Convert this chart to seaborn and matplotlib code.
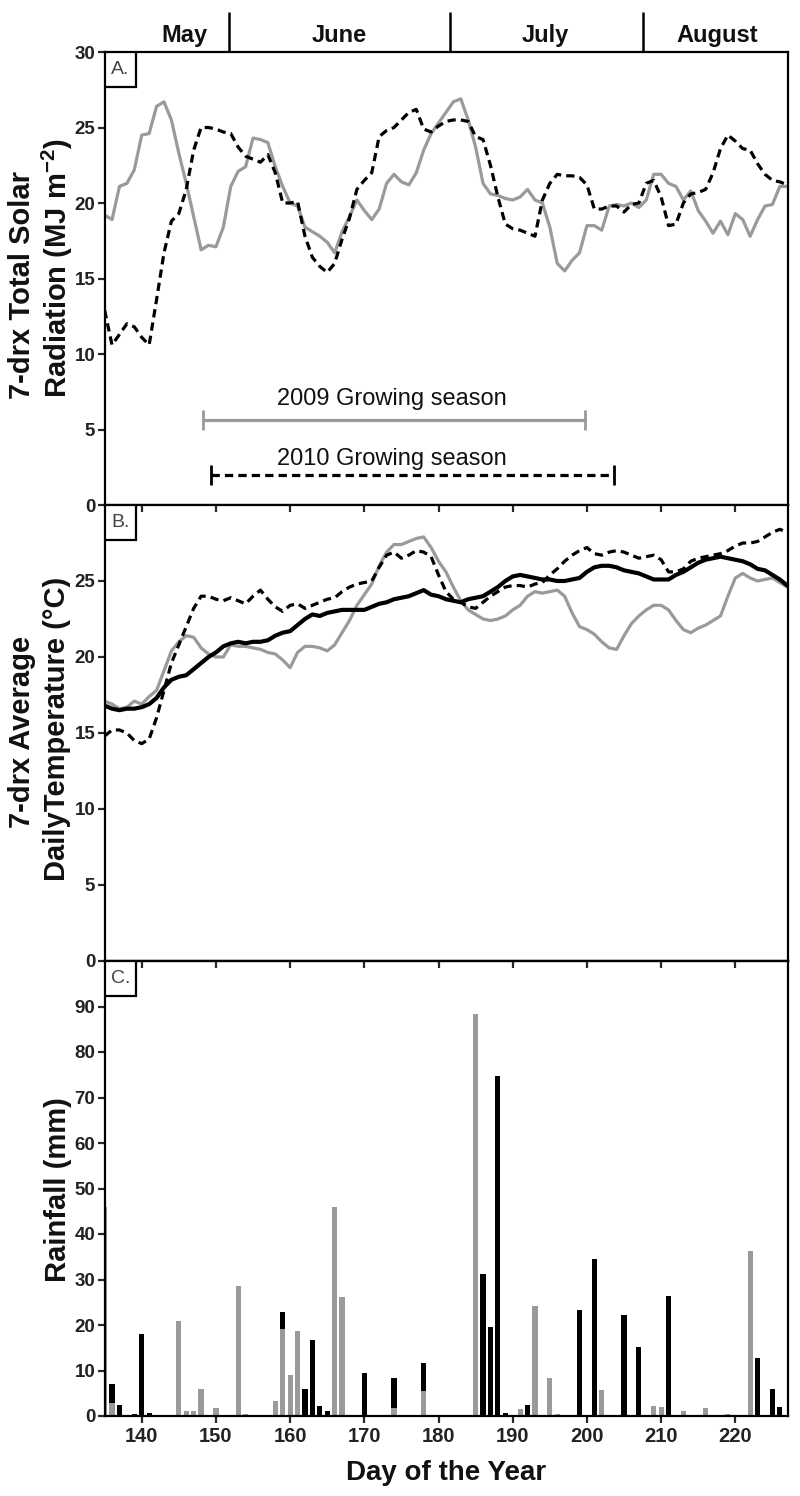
import matplotlib
matplotlib.use("Agg")
import matplotlib.pyplot as plt
from matplotlib.patches import Rectangle
import pandas as pd
import seaborn as sns

# ---------------- data ----------------
days = list(range(135, 228))

solar_2009 = [19.2, 18.9, 21.1, 21.3, 22.2, 24.5, 24.6, 26.4, 26.7, 25.5,
              23.3, 21.3, 19.1, 16.9, 17.2, 17.1, 18.4, 21.1, 22.1, 22.4,
              24.3, 24.2, 24.0, 22.4, 21.1, 20.0, 19.8, 18.4, 18.1, 17.8,
              17.4, 16.7, 18.1, 19.1, 20.2, 19.5, 18.9, 19.6, 21.3, 21.9,
              21.4, 21.2, 22.0, 23.5, 24.6, 25.3, 26.0, 26.7, 26.9, 25.5,
              23.7, 21.3, 20.6, 20.5, 20.3, 20.2, 20.4, 20.9, 20.2, 20.0,
              18.4, 16.0, 15.5, 16.2, 16.7, 18.5, 18.5, 18.2, 19.8, 19.9,
              19.8, 20.0, 19.7, 20.2, 21.9, 21.9, 21.3, 21.1, 20.2, 20.8,
              19.5, 18.8, 18.0, 18.8, 17.9, 19.3, 18.9, 17.8, 18.9, 19.8,
              19.9, 21.1, 21.1]
solar_2010 = [12.9, 10.6, 11.3, 12.0, 11.8, 11.1, 10.6, 13.6, 16.7, 18.8,
              19.3, 20.9, 23.5, 25.0, 25.0, 24.9, 24.7, 24.6, 23.7, 23.1,
              22.9, 22.7, 23.2, 22.0, 20.0, 20.0, 20.1, 17.8, 16.4, 15.8,
              15.4, 16.0, 17.6, 19.0, 20.9, 21.5, 22.0, 24.4, 24.8, 25.0,
              25.5, 26.0, 26.2, 24.9, 24.7, 25.1, 25.4, 25.5, 25.5, 25.4,
              24.4, 24.2, 22.5, 20.4, 18.6, 18.3, 18.2, 18.0, 17.8, 20.2,
              21.3, 21.9, 21.8, 21.8, 21.7, 21.2, 19.6, 19.6, 19.8, 19.8,
              19.4, 19.9, 20.0, 21.3, 21.5, 20.4, 18.5, 18.6, 20.0, 20.6,
              20.7, 20.9, 22.0, 23.6, 24.5, 24.1, 23.6, 23.5, 22.6, 21.9,
              21.5, 21.4, 21.2]

temp_2009 = [17.1, 16.9, 16.6, 16.7, 17.1, 16.9, 17.4, 17.8, 19.1, 20.4,
             21.0, 21.4, 21.3, 20.6, 20.2, 20.0, 20.0, 20.8, 20.7, 20.7,
             20.6, 20.5, 20.3, 20.2, 19.8, 19.3, 20.3, 20.7, 20.7, 20.6,
             20.4, 20.8, 21.6, 22.4, 23.4, 24.1, 24.8, 26.0, 26.9, 27.4,
             27.4, 27.6, 27.8, 27.9, 27.2, 26.3, 25.6, 24.6, 23.7, 23.1,
             22.8, 22.5, 22.4, 22.5, 22.7, 23.1, 23.4, 24.0, 24.3, 24.2,
             24.3, 24.4, 24.0, 22.9, 22.0, 21.8, 21.5, 21.0, 20.6, 20.5,
             21.4, 22.2, 22.7, 23.1, 23.4, 23.4, 23.1, 22.4, 21.8, 21.6,
             21.9, 22.1, 22.4, 22.7, 24.0, 25.2, 25.5, 25.2, 25.0, 25.1,
             25.2, 24.9, 24.6]
temp_2010 = [14.8, 15.2, 15.2, 15.0, 14.5, 14.3, 14.6, 16.0, 17.8, 19.6,
             20.8, 22.0, 23.2, 24.0, 24.0, 23.8, 23.7, 23.9, 23.7, 23.5,
             24.0, 24.4, 23.8, 23.3, 23.0, 23.4, 23.5, 23.2, 23.4, 23.6,
             23.8, 23.9, 24.3, 24.6, 24.8, 24.9, 25.0, 25.9, 26.7, 26.9,
             26.5, 26.7, 27.0, 26.9, 26.6, 25.4, 24.3, 23.8, 23.6, 23.3,
             23.2, 23.6, 24.0, 24.3, 24.6, 24.7, 24.7, 24.6, 24.8, 24.9,
             25.4, 25.8, 26.3, 26.7, 27.0, 27.2, 26.8, 26.7, 26.9, 27.0,
             26.9, 26.7, 26.5, 26.6, 26.7, 26.4, 25.6, 25.6, 25.8, 26.3,
             26.5, 26.6, 26.7, 26.8, 27.0, 27.3, 27.5, 27.5, 27.6, 27.9,
             28.2, 28.4, 28.2]
temp_normal = [16.8, 16.6, 16.5, 16.6, 16.6, 16.7, 16.9, 17.3, 18.0, 18.5,
               18.7, 18.8, 19.2, 19.6, 20.0, 20.3, 20.7, 20.9, 21.0, 20.9,
               21.0, 21.0, 21.1, 21.4, 21.6, 21.7, 22.1, 22.5, 22.8, 22.7,
               22.9, 23.0, 23.1, 23.1, 23.1, 23.1, 23.3, 23.5, 23.6, 23.8,
               23.9, 24.0, 24.2, 24.4, 24.1, 24.0, 23.8, 23.7, 23.6, 23.8,
               23.9, 24.0, 24.3, 24.6, 25.0, 25.3, 25.4, 25.3, 25.2, 25.1,
               25.1, 25.0, 25.0, 25.1, 25.2, 25.6, 25.9, 26.0, 26.0, 25.9,
               25.7, 25.6, 25.5, 25.3, 25.1, 25.1, 25.1, 25.4, 25.6, 25.9,
               26.2, 26.4, 26.5, 26.6, 26.5, 26.4, 26.3, 26.1, 25.8, 25.7,
               25.4, 25.1, 24.7]

rain_2009_days = [135, 136, 145, 146, 147, 148, 150, 153, 154, 158, 159, 160,
                  161, 166, 167, 174, 178, 185, 191, 193, 195, 196, 202, 209,
                  210, 213, 216, 219, 222]
rain_2009_mm = [46.0, 2.9, 20.8, 1.0, 1.0, 5.9, 1.8, 28.6, 0.5, 3.3, 19.2, 9.0,
                18.6, 46.0, 26.1, 1.7, 5.5, 88.3, 1.5, 24.2, 8.3, 0.5, 5.8, 2.2,
                2.0, 1.1, 1.7, 0.4, 36.3]
rain_2010_days = [136, 137, 139, 140, 141, 159, 162, 163, 164, 165, 170, 174,
                  178, 186, 187, 188, 189, 192, 199, 201, 205, 207, 211, 223,
                  225, 226]
rain_2010_mm = [7.0, 2.4, 0.5, 18.0, 0.7, 22.8, 6.0, 16.7, 2.2, 1.0, 9.5, 8.3,
                11.7, 31.2, 19.5, 74.7, 0.6, 2.4, 23.3, 34.4, 22.3, 15.1, 26.3,
                12.8, 6.0, 2.0]

month_names = ["May", "June", "July", "August"]
month_label_days = [145.8, 166.6, 194.4, 217.5]
month_edges = [151.7, 181.5, 207.6]

season_labels = ["2009 Growing season", "2010 Growing season"]
season_2009 = [148.2, 199.8]
season_2010 = [149.3, 203.7]

# ---------------- style ----------------
GRAY = "#9a9a9a"
sns.set_theme(style="ticks")
plt.rcParams["font.family"] = ["Liberation Sans", "DejaVu Sans"]
plt.rcParams["mathtext.default"] = "regular"
plt.rcParams["axes.linewidth"] = 1.6

W, H = 800, 1496
fig = plt.figure(figsize=(W / 100, H / 100), dpi=100)


def px_axes(top, bottom, left=105, right=788):
    return fig.add_axes([left / W, 1 - bottom / H, (right - left) / W, (bottom - top) / H])


ax_m = px_axes(12, 52)
ax_a = px_axes(52, 505)
ax_b = px_axes(505, 961)
ax_c = px_axes(961, 1416)

xlim = (135.05, 227.1)
xticks = list(range(140, 221, 10))

df = pd.DataFrame({"day": days, "s09": solar_2009, "s10": solar_2010,
                   "t09": temp_2009, "t10": temp_2010, "tn": temp_normal})

# ---------------- month strip ----------------
ax_m.set_xlim(*xlim)
ax_m.set_ylim(0, 1)
ax_m.axis("off")
ax_m.vlines(month_edges, 0, 1, color="black", lw=1.8)
for name, d in zip(month_names, month_label_days):
    ax_m.text(d, 0.42, name, ha="center", va="center", fontsize=17,
              fontweight="bold", color="#111")

# ---------------- panel A ----------------
sns.lineplot(data=df, x="day", y="s09", ax=ax_a, color=GRAY, lw=2.3)
sns.lineplot(data=df, x="day", y="s10", ax=ax_a, color="black", lw=2.3)
ax_a.lines[-1].set_dashes((2.6, 1.6))

ax_a.plot(season_2009, [5.6, 5.6], color=GRAY, lw=2.3)
ax_a.plot(season_2009, [5.6, 5.6], ls="none", marker="|", ms=15, mew=2, color=GRAY)
ln, = ax_a.plot(season_2010, [2.0, 2.0], color="black", lw=2.3)
ln.set_dashes((2.6, 1.6))
ax_a.plot(season_2010, [2.0, 2.0], ls="none", marker="|", ms=15, mew=2, color="black")
ax_a.text(173.7, 7.0, season_labels[0], ha="center", va="center", fontsize=17, color="#111")
ax_a.text(173.7, 3.05, season_labels[1], ha="center", va="center", fontsize=17, color="#111")

ax_a.set_ylim(0, 30)
ax_a.set_yticks(range(0, 31, 5))
ax_a.tick_params(axis="x", bottom=False, labelbottom=False)

# ---------------- panel B ----------------
sns.lineplot(data=df, x="day", y="t09", ax=ax_b, color=GRAY, lw=2.3)
sns.lineplot(data=df, x="day", y="t10", ax=ax_b, color="black", lw=2.3)
ax_b.lines[-1].set_dashes((2.6, 1.6))
sns.lineplot(data=df, x="day", y="tn", ax=ax_b, color="black", lw=3.0)

ax_b.set_ylim(0, 30)
ax_b.set_yticks(range(0, 26, 5))
ax_b.tick_params(axis="x", bottom=False, top=True, direction="in",
                 labelbottom=False, labeltop=False, length=5, width=1.6)

# ---------------- panel C ----------------
sns.histplot(x=rain_2010_days, weights=rain_2010_mm, discrete=True, shrink=0.7,
             color="black", alpha=1, linewidth=0, ax=ax_c)
sns.histplot(x=rain_2009_days, weights=rain_2009_mm, discrete=True, shrink=0.7,
             color=GRAY, alpha=1, linewidth=0, ax=ax_c)
ax_c.set_ylim(0, 100)
ax_c.set_yticks(range(0, 91, 10))
sec = ax_c.secondary_xaxis("top")
sec.set_xticks(xticks)
sec.tick_params(direction="in", labeltop=False, length=5, width=1.6)

# ---------------- common axis styling ----------------
for ax in (ax_a, ax_b, ax_c):
    ax.set_xlim(*xlim)
    ax.set_xticks(xticks)
    ax.set_xlabel("")
    ax.set_ylabel("")
    for sp in ax.spines.values():
        sp.set_visible(True)
        sp.set_linewidth(1.6)
        sp.set_color("black")
    ax.tick_params(axis="y", left=True, right=False, direction="out", length=5,
                   width=1.6, labelsize=13.5, labelcolor="#222", pad=2)
    for lab in ax.get_yticklabels():
        lab.set_fontweight("bold")

ax_c.tick_params(axis="x", bottom=True, direction="out", length=5, width=1.6,
                 labelsize=14.5, labelcolor="#222", pad=3)
for lab in ax_c.get_xticklabels():
    lab.set_fontweight("bold")

# panel letter boxes
for ax, letter, hpx in ((ax_a, "A.", 453), (ax_b, "B.", 456), (ax_c, "C.", 455)):
    bw, bh = 31 / 683, 35 / hpx
    ax.add_patch(Rectangle((0, 1 - bh), bw, bh, transform=ax.transAxes,
                           fc="white", ec="black", lw=1.6, zorder=5))
    ax.text(bw / 2, 1 - bh / 2, letter, transform=ax.transAxes, ha="center",
            va="center", fontsize=14, color="#444", zorder=6)

# axis titles
def ptext(x, y, s, **kw):
    fig.text(x / W, 1 - y / H, s, rotation=90, ha="center", va="center", **kw)


ptext(22, 285, "7-drx Total Solar", fontsize=21, fontweight="bold", color="#111")
ptext(57, 268, "Radiation (MJ m$^{-2}$)", fontsize=21, fontweight="bold", color="#111")
ptext(22, 732, "7-drx Average", fontsize=21, fontweight="bold", color="#111")
ptext(57, 729, "DailyTemperature (\u00b0C)", fontsize=21, fontweight="bold", color="#111")
ptext(58, 1190, "Rainfall (mm)", fontsize=21, fontweight="bold", color="#111")
fig.text((105 + 788) / 2 / W, 1 - 1473 / H, "Day of the Year", ha="center",
         va="center", fontsize=20, fontweight="bold", color="#111")

fig.savefig("out.png", dpi=100)
